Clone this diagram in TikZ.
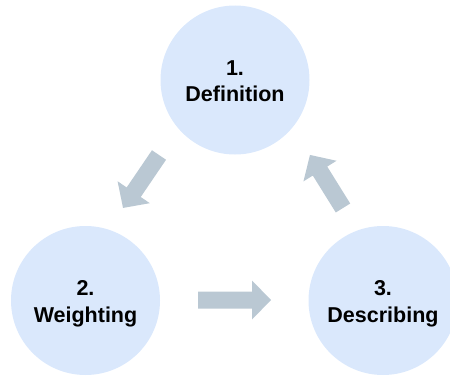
\documentclass[tikz,border=0pt]{standalone}
\usepackage{fontspec}
\setmainfont{Liberation Sans}
\begin{document}
\begin{tikzpicture}[x=1pt,y=1pt,
  stage/.style={circle, fill=stagefill, minimum size=149pt, inner sep=0pt},
  stagetext/.style={align=center, inner sep=0pt, yshift=-3.5pt,
    font=\fontsize{21.5}{26.5}\selectfont\bfseries, text=black},
  blockarrow/.style={fill=arrowfill}
]
\definecolor{stagefill}{HTML}{DAE8FC}
\definecolor{arrowfill}{HTML}{BAC8D3}
\useasboundingbox (0,0) rectangle (450,376);

% the three stages of the cycle
\node[stage] (def) at (235,296) {};
\node[stage] (wei) at (85.5,75.5) {};
\node[stage] (des) at (383,75.5) {};

% stage captions, all lines set with the same depth
\node[stagetext] (deftext) at (def) {1.\\Definition\vphantom{g}};
\node[stagetext] (weitext) at (wei) {2.\\Weighting};
\node[stagetext] (destext) at (des) {3.\\Describing};

% tails of the block arrows
\coordinate (tailDW) at (159,221);
\coordinate (tailWD) at (198,76);
\coordinate (tailDD) at (343,168);

% block arrow: shaft 17 wide, head 39 wide and 19 long
\def\blockarrow#1#2#3{%
  \begin{scope}[shift={(#1)}, rotate=#2]
    \fill[blockarrow] (0,-8.5) -- (#3-19,-8.5) -- (#3-19,-19.5) -- (#3,0)
      -- (#3-19,19.5) -- (#3-19,8.5) -- (0,8.5) -- cycle;
  \end{scope}}

\blockarrow{tailDW}{235.8}{64}
\blockarrow{tailWD}{0}{73}
\blockarrow{tailDD}{121.9}{62.5}
\end{tikzpicture}
\end{document}
